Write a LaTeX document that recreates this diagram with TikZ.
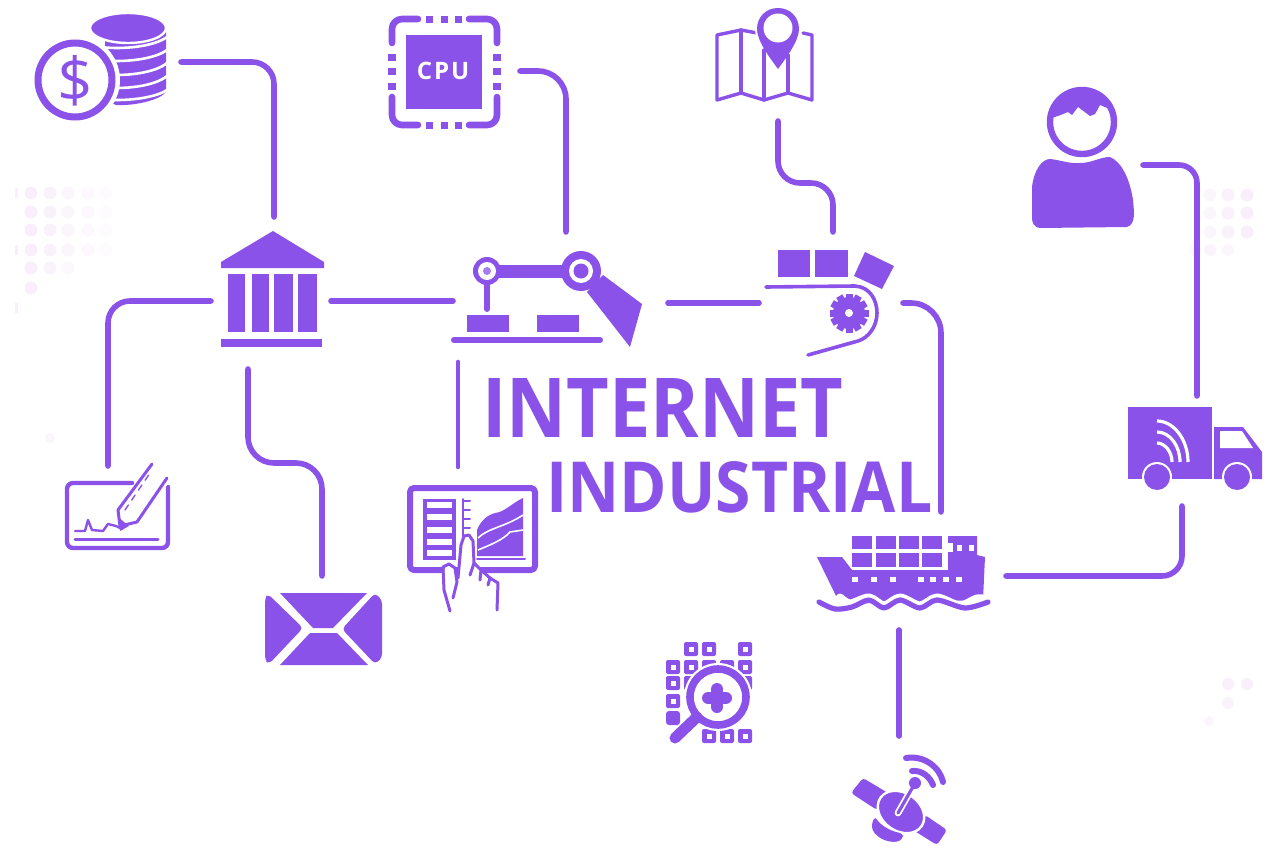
\documentclass[tikz,border=0pt]{standalone}
\usepackage{graphicx}
\usepackage{fontspec}
\setmainfont{Open Sans}
\newfontfamily\titlefont{Open Sans Bold}
\newfontfamily\cpufont[LetterSpace=8]{Open Sans Bold}
\definecolor{ink}{HTML}{8A52E8}
\definecolor{faint}{HTML}{F9EFFB}
\tikzset{
  ic/.style={fill=ink,draw=none},
  wh/.style={fill=white,draw=none},
  conn/.style={draw=ink,line width=2.8pt,line cap=round},
  connthin/.style={draw=ink,line width=2.3pt,line cap=round},
  stroke/.style={draw=ink,line width=#1,line cap=round,line join=round},
  halo/.style={draw=white,line width=#1,line cap=round,line join=round},
  dotf/.style={fill=faint,draw=none},
  titletext/.style={text=ink,inner sep=0pt,anchor=base west,font=\titlefont}
}
\begin{document}
\begin{tikzpicture}[x=0.5pt,y=-0.5pt]
\useasboundingbox (0,0) rectangle (1265,846);
\fill[white] (0,0) rectangle (1265,846);

% faint dots
\foreach \x/\o in {31/1,50/.8,68/.6,88/.4,106/.2}{
  \foreach \y in {193,212,230,250}{\fill[dotf,opacity=\o] (\x,\y) circle (6.5);}
}
\foreach \x/\o in {31/1,50/.7,68/.4}{\fill[dotf,opacity=\o] (\x,268) circle (6.5);}
\fill[dotf] (31,288) circle (6.5);
\foreach \y in {193,250,308}{\fill[dotf] (15,\y-5) rectangle (18,\y+5);}
\fill[faint,opacity=.6] (50,438) circle (5);
\foreach \x/\o in {1210/.5,1228/.8,1247/1}{
  \foreach \y in {195,213,232}{\fill[dotf,opacity=\o] (\x,\y) circle (6.5);}
}
\foreach \x/\o in {1195/.4,1210/.7,1228/.5}{\fill[dotf,opacity=\o] (\x,250) circle (6);}
\foreach \x/\o in {1228/.9,1247/1}{\fill[dotf,opacity=\o] (\x,684) circle (6);}
\fill[faint,opacity=.7] (1228,703) circle (6);
\fill[faint,opacity=.5] (1209,721) circle (5);

% connector ends
\coordinate (coinsOut) at (181,62);
\coordinate (bankTop) at (274,217);
\coordinate (cpuOut) at (520,71);
\coordinate (robotTop) at (566,232);
\coordinate (mapOut) at (778,121);
\coordinate (mapMid) at (805,183);
\coordinate (convTop) at (833,232);
\coordinate (personOut) at (1143,165);
\coordinate (truckTop) at (1197,396);
\coordinate (truckOut) at (1182,506);
\coordinate (shipRight) at (1006,576);
\coordinate (bankLeft) at (211,301);
\coordinate (signTop) at (108,466);
\coordinate (bankRight) at (331,301);
\coordinate (robotLeft) at (453,301);
\coordinate (bankDown) at (248,369);
\coordinate (bankMid) at (285,463);
\coordinate (mailTop) at (322,576);
\coordinate (robotDown) at (458,362);
\coordinate (tabletTop) at (458,467);
\coordinate (robotRight) at (668,303);
\coordinate (convLeft) at (759,303);
\coordinate (convRight) at (903,303);
\coordinate (shipTop) at (941,512);
\coordinate (shipDown) at (899,630);
\coordinate (satTop) at (899,736);

% connectors
\draw[conn,rounded corners=11pt] (coinsOut) -| (bankTop);
\draw[conn,rounded corners=14pt] (cpuOut) -| (robotTop);
\draw[conn,rounded corners=11pt] (mapOut) -- (mapOut |- mapMid) -- (convTop |- mapMid) -- (convTop);
\draw[conn,rounded corners=9pt] (personOut) -| (truckTop);
\draw[conn,rounded corners=10pt] (truckOut) |- (shipRight);
\draw[conn,rounded corners=11pt] (bankLeft) -| (signTop);
\draw[conn] (bankRight) -- (robotLeft);
\draw[conn,rounded corners=13pt] (bankDown) -- (bankDown |- bankMid) -- (mailTop |- bankMid) -- (mailTop);
\draw[connthin] (robotDown) -- (tabletTop);
\draw[conn] (robotRight) -- (convLeft);
\draw[conn,rounded corners=15pt] (convRight) -| (shipTop);
\draw[conn] (shipDown) -- (satTop);

% coins
\fill[ic] (105,36) -- (166,28) -- (166,92) .. controls (160,100) and (135,106) .. (116,105) -- (105,100) -- cycle;
\foreach \a/\b in {37/47,50/60,63/74,76/87,90/99}{
  \draw[halo=1.3pt] (100,\b) .. controls (125,\b+3) and (155,\b-1) .. (167,\a);
}
\draw[halo=1.2pt,fill=ink] (128,28) ellipse (38 and 15);
\fill[wh] (75,80) circle (45);
\draw[stroke=3.5pt,fill=white] (75,80) circle (37);
\node[text=ink,inner sep=0pt,font=\fontsize{31}{31}\selectfont] (dollar) at (75,81) {\$};

% bank
\fill[ic] (273,231) -- (324,262) -- (324,268) -- (221,268) -- (221,262) -- cycle;
\foreach \a/\b in {228/245,252/269,274/293,298/317}{\fill[ic] (\a,274) rectangle (\b,332);}
\fill[ic] (221,339) rectangle (322,347);

% CPU
\foreach \p/\q/\r in {392/19/418,497/19/469,392/125/418,497/125/469}{
  \pgfmathsetmacro{\v}{\q<50?43:97}
  \draw[stroke=3.3pt,rounded corners=5pt] (\p,\v) -- (\p,\q) -- (\r,\q);
}
\foreach \u in {429,444,458}{
  \fill[ic] (\u-3.5,15.5) rectangle (\u+3.5,23);
  \fill[ic] (\u-3.5,121.5) rectangle (\u+3.5,129);
}
\foreach \u in {57,71,86}{
  \fill[ic] (388,\u-3.5) rectangle (396,\u+3.5);
  \fill[ic] (493,\u-3.5) rectangle (501,\u+3.5);
}
\fill[ic] (406,35) rectangle (482,109);
\node[text=white,inner sep=0pt,font=\cpufont\fontsize{12}{12}\selectfont] (cpu) at (443,71) {CPU};

% robot
\fill[ic] (488,265) rectangle (581,278);
\draw[stroke=3pt] (487,284) -- (487,309);
\fill[ic] (487,271) circle (14);
\fill[wh] (487,271) circle (9);
\fill[ink!75] (487,271) circle (4);
\fill[ic] (603,275) -- (642,304) -- (630,347) -- (587,292) -- cycle;
\fill[ic] (581,271) circle (20);
\fill[wh] (581,271) circle (12);
\fill[ic] (581,271) circle (7.5);
\fill[ic] (467,315) rectangle (509,332);
\fill[ic] (537,315) rectangle (579,332);
\draw[stroke=3pt] (454,340) -- (600,340);

% map
\draw[stroke=1.7pt] (757,33) -- (741,30) -- (717,35) -- (717,100) -- (741,93) -- (764,100) -- (788,93) -- (812,100) -- (812,35) -- (803,33);
\draw[stroke=1.7pt] (741,30) -- (741,93);
\draw[stroke=1.7pt] (764,50) -- (764,100);
\draw[stroke=1.7pt] (788,55) -- (788,93);
\fill[wh] (778,29) circle (23);
\fill[ic] (757,29) .. controls (757,41) and (770,58) .. (778,69) .. controls (786,58) and (799,41) .. (799,29) .. controls (799,17) and (790,8) .. (778,8) .. controls (766,8) and (757,17) .. cycle;
\fill[wh] (778,28) circle (14.5);

% conveyor
\fill[ic] (778,250) rectangle (810,277);
\fill[ic] (815,250) rectangle (848,277);
\fill[ic] (865,252) -- (894,266) -- (882,289) -- (854,276) -- cycle;
\draw[stroke=1.8pt] (766,287) -- (855,286) .. controls (870,287) and (877,300) .. (877,313) .. controls (877,327) and (868,338) .. (858,341) -- (808,355);
\foreach \a in {0,30,...,330}{
  \fill[ic,rotate around={\a:(849,313)}] (845.5,293.5) rectangle (852.5,300);
}
\fill[ic] (849,313) circle (16);
\fill[wh] (849,313) circle (4);

% person
\draw[stroke=3.2pt,fill=white] (1082,122) circle (32);
\begin{scope}
  \clip (1082,122) circle (32);
  \fill[ic] (1045,85) -- (1120,85) -- (1120,113) -- (1112,110) -- (1100,105) -- (1095,114) -- (1090,116) -- (1078,107) -- (1072,115) -- (1068,112) -- (1058,116) -- (1045,120) -- cycle;
\end{scope}
\fill[ic] (1032,187) .. controls (1034,170) and (1042,159) .. (1050,159) .. controls (1060,160) and (1070,164) .. (1080,163) .. controls (1092,163) and (1100,157) .. (1110,157) .. controls (1122,162) and (1130,180) .. (1133,200) .. controls (1134,212) and (1136,224) .. (1127,227) -- (1040,228) .. controls (1033,227) and (1032,222) .. (1032,217) -- cycle;

% truck
\fill[ic] (1128,407) rectangle (1212,479);
\fill[ic] (1214,427) -- (1243,427) -- (1262,452) -- (1262,479) -- (1214,479) -- cycle;
\fill[wh] (1220,431) -- (1242,431) -- (1253,448) -- (1220,448) -- cycle;
\fill[wh] (1157,477) circle (15);
\fill[wh] (1237,477) circle (15);
\fill[ic] (1157,477) circle (13);
\fill[ic] (1237,477) circle (13);
\draw[draw=white,line width=1.6pt] (1157,421) .. controls (1174,421) and (1188,440) .. (1188,462);
\draw[draw=white,line width=1.6pt] (1157,432) .. controls (1170,432) and (1180,446) .. (1180,462);
\draw[draw=white,line width=1.6pt] (1157,443) .. controls (1165,443) and (1172,452) .. (1172,462);

% signature tablet
\draw[stroke=2.2pt,rounded corners=3pt] (132,483) -- (67,483) -- (67,548) -- (168,548) -- (168,487);
\draw[stroke=1.5pt] (75,539) -- (158,539);
\draw[stroke=1.2pt] (75,531) -- (85,531) -- (88,520) -- (92,530) -- (103,531) -- (108,524) -- (116,526) -- (122,529);
\draw[halo=3pt] (138,520) -- (170,476);
\draw[stroke=1.5pt] (118,510) -- (152,464);
\draw[stroke=1.5pt] (137,522) -- (167,478);
\draw[stroke=1.5pt] (118,510) -- (120,526) -- (137,522);
\draw[stroke=.7pt,dashed] (125,510) -- (150,473);
\fill[ic] (118,517) -- (120,531) -- (129,526) -- cycle;

% envelope
\fill[ic] (280,593) -- (367,593) -- (333,628) -- (313,628) -- cycle;
\fill[ic,rounded corners=2pt] (268,594) -- (303,628) -- (269,664) -- (265,660) -- (265,598) -- cycle;
\fill[ic,rounded corners=2pt] (375,593) -- (382,600) -- (382,658) -- (375,664) -- (342,629) -- cycle;
\fill[ic] (310,633) -- (337,633) -- (368,665) -- (280,665) -- cycle;

% chart tablet
\draw[stroke=3pt,rounded corners=2pt,fill=white] (410,488) rectangle (535,570);
\fill[ic] (423,499) rectangle (456,560);
\foreach \u in {505,517,530,542,553}{\fill[wh] (427,\u-2.7) rectangle (452,\u+2.7);}
\draw[stroke=1pt] (463,499) -- (463,536);
\foreach \u in {501,510,519,528}{\draw[stroke=1pt] (463,\u) -- (470,\u);}
\fill[ic] (477,556) -- (477,530) .. controls (481,520) and (488,515) .. (495,513) .. controls (505,512) and (512,503) .. (523,498) -- (523,556) -- cycle;
\draw[draw=white,line width=.8pt] (478,538) .. controls (488,528) and (505,527) .. (523,515);
\draw[draw=white,line width=.8pt] (478,550) .. controls (490,545) and (503,540) .. (510,532) -- (523,530);
\draw[stroke=1pt] (477,559) -- (525,559);
\fill[wh] (445,565) -- (455,568) -- (458,578) -- (462,540) -- (468,535) -- (473,540) -- (474,563) -- (482,570) -- (490,578) -- (498,583) -- (497,610) -- (450,612) -- (443,583) -- cycle;
\draw[stroke=1.5pt] (450,611) -- (444,590) -- (443,567) -- (449,564) -- (455,568) -- (457,582) -- (453,598);
\draw[stroke=1.5pt] (458,578) -- (461,545) -- (464,536) -- (469,535) -- (473,541) -- (474,563) -- (470,575);
\draw[stroke=1.5pt] (474,563) -- (481,570) -- (480,580);
\draw[stroke=1.5pt] (481,570) -- (490,578) -- (488,585);
\draw[stroke=1.5pt] (490,578) -- (498,583) -- (497,610);

% ship
\foreach \x in {852,876,899,922}{
  \fill[ic] (\x,536) rectangle (\x+20,549);
  \fill[ic] (\x,553) rectangle (\x+20,567);
}
\fill[ic] (817,557) -- (842,557) -- (852,570) -- (948,570) -- (948,536) -- (977,536) -- (977,555) -- (985,557) -- (983,600) -- (840,604) -- cycle;
\foreach \x in {855,874,893,921,933,946,959}{\fill[wh] (\x-3,577) rectangle (\x+3,582);}
\foreach \x in {959,971}{\fill[wh] (\x-2.5,545) rectangle (\x+2.5,551);}
\fill[wh] (947,543) rectangle (953,552);
\draw[halo=4.5pt] plot[smooth] coordinates {(840,598) (850,604) (869,598) (884,606) (900,598) (920,606) (937,598) (960,606) (977,599) (990,600)};
\fill[wh] (810,605) rectangle (995,616);
\draw[stroke=2.6pt] plot[smooth] coordinates {(819,602) (835,609) (852,607) (869,600) (884,608) (900,600) (920,608) (937,600) (965,608) (988,602)};

% magnifier grid
\foreach \x/\y in {691/649,709/649,745/649,673/667,691/667,709/667,727/667,745/667,673/683,691/683,745/683,673/701,709/736,727/736,745/736}{
  \fill[ic,rounded corners=1pt] (\x-7,\y-7) rectangle (\x+7,\y+7);
  \fill[wh] (\x-2.5,\y-2.5) rectangle (\x+2.5,\y+2.5);
}
\fill[ic,rounded corners=1.5pt] (666,711) rectangle (680,725);
\fill[wh] (718,697) circle (34);
\draw[stroke=3.8pt,fill=white] (718,697) circle (28);
\draw[stroke=5.5pt] (697,717) -- (675,738);
\draw[stroke=6pt] (708,698) -- (726,698);
\draw[stroke=6pt] (717,689) -- (717,707);

% satellite
\fill[ic,rounded corners=1.5pt] (863,778) -- (888,793) -- (877,810) -- (851,793) -- cycle;
\fill[ic,rounded corners=1.5pt] (925,815) -- (947,830) -- (937,845) -- (913,830) -- cycle;
\draw[halo=1.2pt,fill=ink,rotate around={-35:(901,812)}] (901,812) ellipse (25 and 19);
\fill[ic,rounded corners=2pt] (875,816) .. controls (880,825) and (892,832) .. (903,833) -- (903,839) .. controls (893,844) and (877,840) .. (871,826) -- cycle;
\draw[halo=3.4pt] (898,813) -- (915,783);
\draw[stroke=1.6pt] (898,813) -- (914,785);
\fill[ic] (915,783) circle (6);
\draw[stroke=3pt] (906,758) .. controls (925,755) and (940,768) .. (943,782);
\draw[stroke=3pt] (912,771) .. controls (922,770) and (930,777) .. (933,785);

% title
\node[titletext] (internet) at (482,437) {\resizebox{180.5pt}{29.5pt}{\fontsize{40.6}{40.6}\selectfont INTERNET}};
\node[titletext] (industrial) at (546,512) {\resizebox{193pt}{25.5pt}{\fontsize{35}{35}\selectfont INDUSTRIAL}};
\end{tikzpicture}
\end{document}
